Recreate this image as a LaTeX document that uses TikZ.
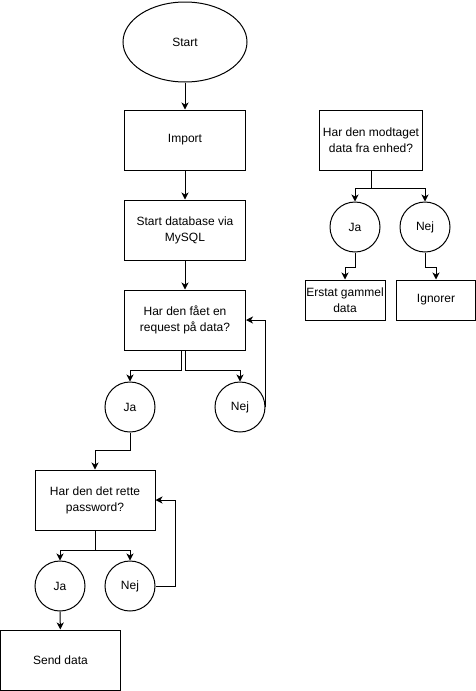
\documentclass[tikz,border=0pt]{standalone}
\usepackage{fontspec}
\setmainfont{Liberation Sans}
\usetikzlibrary{arrows.meta,positioning,shapes.geometric}

\begin{document}
\begin{tikzpicture}[x=1pt,y=-1pt,line width=1pt,font=\fontsize{12}{16}\selectfont,
  boks/.style={draw,rectangle,align=center,minimum height=60pt,minimum width=121pt},
  rund/.style={draw,circle,minimum size=50pt,inner sep=0pt},
  pil/.style={-{Stealth[length=7pt,width=7pt,inset=2pt]}}]
\useasboundingbox (0,0) rectangle (476,691);
%Venstre side: hovedforloeb
\node[ellipse,draw,minimum width=124pt,minimum height=80pt] (start) at (185,42) {Start};
\node[boks] (import) at (185,140) {Import};
\node[boks] (db) at (185,230) {Start database via\\MySQL};
\node[boks] (req) at (185,320) {Har den fået en\\request på data?};
\node[rund] (reqja) at (130,407) {Ja};
\node[rund] (reqnej) at (240,407) {Nej};
\node[boks,minimum width=120pt] (pw) at (95,500) {Har den det rette\\password?};
\node[rund] (pwja) at (60,586) {Ja};
\node[rund] (pwnej) at (130,586) {Nej};
\node[boks,minimum width=120pt] (send) at (60.5,660) {Send data};
%Hoejre side
\node[boks,minimum width=80pt] (mod) at (371,140) {Har den modtaget\\data fra enhed?};
\node[rund] (modja) at (355,227) {Ja};
\node[rund] (modnej) at (425,227) {Nej};
\node[boks,minimum width=80pt,minimum height=40pt,inner sep=1pt] (erstat) at (345,300) {Erstat gammel\\data};
\node[boks,minimum width=79pt,minimum height=40pt] (ign) at (436,300) {Ignorer};

\draw[pil] (start) -- (import);
\draw[pil] (import) -- (db);
\draw[pil] (db) -- (req);
\draw[pil] ([xshift=-4pt]req.south) -- ++(0,20) -| (reqja);
\draw[pil] (req.south) -- ++(0,20) -| (reqnej);
\draw[pil] (reqnej.east) |- (req.east);
\draw[pil] (reqja.south) -- ++(0,18) -| (pw);
\draw[pil] (pw.south) -- ++(0,20) -| (pwja);
\draw[pil] (pw.south) -- ++(0,20) -| (pwnej);
\draw[pil] (pwnej.east) -- ++(20,0) |- (pw.east);
\draw[pil] (pwja) -- (send);
\draw[pil] (mod.south) -- ++(0,18) -| (modja);
\draw[pil] (mod.south) -- ++(0,18) -| (modnej);
\draw[pil] (modja.south) -- ++(0,15) -| (erstat);
\draw[pil] (modnej.south) -- ++(0,15) -| (ign);
\end{tikzpicture}
\end{document}
